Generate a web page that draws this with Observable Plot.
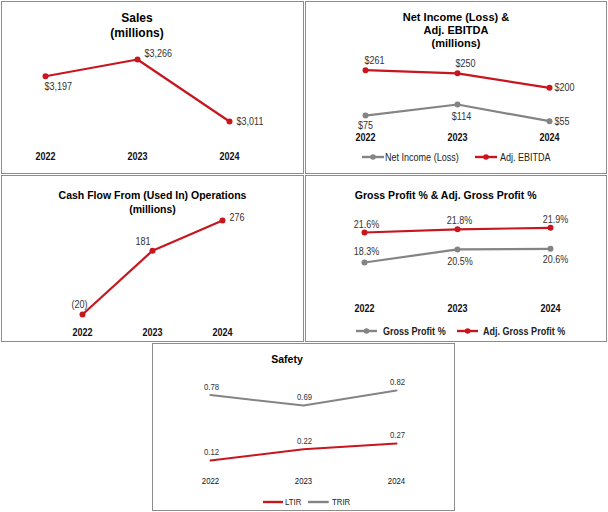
<!DOCTYPE html>
<html><head><meta charset="utf-8">
<script src="https://cdn.jsdelivr.net/npm/d3@7"></script>
<script src="https://cdn.jsdelivr.net/npm/@observablehq/plot@0.6"></script>
<style>
body{margin:0;background:#fff;}
#root{position:relative;width:608px;height:512px;overflow:hidden;font-family:"Liberation Sans",Arial,Helvetica,sans-serif;}
.panel{position:absolute;box-sizing:border-box;border:1.5px solid #8c8c8c;}
.layer{position:absolute;}
.title{position:absolute;text-align:center;font-weight:bold;color:#000;white-space:nowrap;}
.leg{position:absolute;display:flex;align-items:center;white-space:nowrap;color:#222;}
.leg span{display:inline-block;transform:scaleX(0.82);transform-origin:0 50%;}
</style></head><body><div id="root"></div>
<script>
const years = ["2022", "2023", "2024"];
const sales = [3197, 3266, 3011];
const netIncome = [75, 114, 55];
const adjEbitda = [261, 250, 200];
const cashFlow = [-20, 181, 276];
const grossProfit = [18.3, 20.5, 20.6];
const adjGrossProfit = [21.6, 21.8, 21.9];
const ltir = [0.12, 0.22, 0.27];
const trir = [0.78, 0.69, 0.82];

const RED = "#c8161e", GRAY = "#848484";
const FONT = '"Liberation Sans", Arial, Helvetica, sans-serif';
const NARROW = 0.82;
const root = document.getElementById("root");

const rows = vals => years.map((year, i) => ({year, value: vals[i], i}));

function panel(l, t, w, h) {
  const d = document.createElement("div");
  d.className = "panel";
  Object.assign(d.style, {left: l + "px", top: t + "px", width: w + "px", height: h + "px"});
  root.appendChild(d);
}

// condense text horizontally (narrow face look)
function condense(svg) {
  svg.querySelectorAll("text").forEach(t => {
    const tr = t.getAttribute("transform");
    if (tr) t.setAttribute("transform", tr + ` scale(${NARROW},1)`);
    else {
      const x = +(t.getAttribute("x") || 0), y = +(t.getAttribute("y") || 0);
      t.removeAttribute("x"); t.removeAttribute("y");
      t.setAttribute("transform", `translate(${x},${y}) scale(${NARROW},1)`);
    }
  });
}

function layer(box, xs, ys, vals, o) {
  const [L, T, W, H] = box;
  const data = rows(vals);
  const marks = [];
  marks.push(Plot.line(data, {x: "year", y: "value", stroke: o.color, strokeWidth: o.sw || 2.2}));
  if (o.dots) marks.push(Plot.dot(data, {x: "year", y: "value", r: 3, fill: o.color}));
  o.places.forEach((p, i) => marks.push(Plot.text(data.filter(d => d.i === i), {
    x: "year", y: "value", text: d => o.fmt(d.value),
    dx: p[0], dy: p[1], textAnchor: p[2] || "middle", fontSize: o.fs || 11, fill: "#333"
  })));
  if (o.axis) marks.push(Plot.axisX({
    tickSize: 0, tickPadding: o.axis.pad, fontSize: o.axis.fs || 11,
    fontWeight: o.axis.bold ? "bold" : "normal", fill: "#111", label: null
  }));
  const svg = Plot.plot({
    width: W, height: H,
    marginLeft: xs[0] - L, marginRight: L + W - xs[1],
    marginTop: ys[1] - T, marginBottom: T + H - ys[0],
    x: o.axis ? {type: "point", domain: years, padding: 0} : {type: "point", domain: years, padding: 0, axis: null},
    y: {domain: d3.extent(vals), axis: null},
    style: {fontFamily: FONT, background: "transparent", overflow: "visible"},
    marks
  });
  condense(svg);
  const wrap = document.createElement("div");
  wrap.className = "layer";
  Object.assign(wrap.style, {left: L + "px", top: T + "px", width: W + "px", height: H + "px"});
  wrap.appendChild(svg);
  root.appendChild(wrap);
}

function title(cx, y1, lines, fs, lh) {
  const d = document.createElement("div");
  d.className = "title";
  Object.assign(d.style, {left: (cx - 150) + "px", width: "300px", top: (y1 - lh / 2) + "px",
    lineHeight: lh + "px", fontSize: fs + "px"});
  d.innerHTML = lines.join("<br>");
  root.appendChild(d);
}

function legend(x, y, sw, color, dot, label, fs, bold, gap) {
  const d = document.createElement("div");
  d.className = "leg";
  Object.assign(d.style, {left: x + "px", top: (y - 7) + "px", height: "14px", fontSize: fs + "px",
    fontWeight: bold ? "bold" : "normal"});
  const ns = "http://www.w3.org/2000/svg";
  const s = document.createElementNS(ns, "svg");
  s.setAttribute("width", sw); s.setAttribute("height", 8);
  const ln = document.createElementNS(ns, "line");
  ln.setAttribute("x1", 0); ln.setAttribute("x2", sw); ln.setAttribute("y1", 4); ln.setAttribute("y2", 4);
  ln.setAttribute("stroke", color); ln.setAttribute("stroke-width", 2.4);
  s.appendChild(ln);
  if (dot) {
    const c = document.createElementNS(ns, "circle");
    c.setAttribute("cx", sw / 2); c.setAttribute("cy", 4); c.setAttribute("r", 2.8); c.setAttribute("fill", color);
    s.appendChild(c);
  }
  d.appendChild(s);
  const t = document.createElement("span");
  t.style.marginLeft = gap + "px";
  t.textContent = label;
  d.appendChild(t);
  root.appendChild(d);
}

const dollars = v => "$" + d3.format(",")(v);
const paren = v => v < 0 ? `(${-v})` : `${v}`;
const pct = v => v.toFixed(1) + "%";
const two = v => v.toFixed(2);

// Panel 1: Sales
const b1 = [1, 1, 302.5, 172.5];
panel(...b1);
layer(b1, [44, 229], [121, 59], sales, {color: RED, dots: true, fmt: dollars,
  places: [[-1, 10, "start"], [7, -6, "start"], [7, 0, "start"]],
  axis: {pad: 31, bold: true}});
title(137, 18, ["Sales", "(millions)"], 12, 15);

// Panel 2: Net Income & Adj. EBITDA
const b2 = [305, 1, 301.5, 172.5];
panel(...b2);
layer(b2, [364.7, 550], [120.7, 104], netIncome, {color: GRAY, dots: true, fmt: dollars,
  places: [[0, 10], [4, 12], [5, 0, "start"]],
  axis: {pad: 12, bold: true}});
layer(b2, [364.7, 550], [87.3, 69.7], adjEbitda, {color: RED, dots: true, fmt: dollars,
  places: [[-1, -10, "start"], [-2, -10, "start"], [5, 0, "start"]]});
title(456, 17, ["Net Income (Loss) &", "Adj. EBITDA", "(millions)"], 11, 13);
legend(362, 156.7, 22, GRAY, true, "Net Income (Loss)", 11, false, 1);
legend(475, 156.7, 22, RED, true, "Adj. EBITDA", 11, false, 3);

// Panel 3: Cash Flow
const b3 = [1, 175, 302.5, 166.5];
panel(...b3);
layer(b3, [80.7, 222.3], [314, 220], cashFlow, {color: RED, dots: true, fmt: paren,
  places: [[-3, -10], [-2, -9, "end"], [7, -3, "start"]],
  axis: {pad: 13.5, bold: true}});
title(152.5, 195, ["Cash Flow From (Used In) Operations", "(millions)"], 10.5, 14.3);

// Panel 4: Gross Profit %
const b4 = [305, 175, 301.5, 166.5];
panel(...b4);
layer(b4, [363.3, 549.7], [262, 248.3], grossProfit, {color: GRAY, dots: true, fmt: pct,
  places: [[2, -11], [2.5, 11.7], [5, 11]],
  axis: {pad: 41.5, bold: true}});
layer(b4, [363.3, 549.7], [232, 227.3], adjGrossProfit, {color: RED, dots: true, fmt: pct,
  places: [[2, -8.5], [2, -8.5], [5, -8.5]]});
title(445.7, 195, ["Gross Profit % & Adj. Gross Profit %"], 10.5, 14);
legend(355.7, 331, 21, GRAY, true, "Gross Profit %", 11, true, 6);
legend(456.7, 331, 21.3, RED, true, "Adj. Gross Profit %", 11, true, 5);

// Panel 5: Safety
const b5 = [152, 343, 302.5, 168];
panel(...b5);
layer(b5, [210, 396.7], [405, 390], trir, {color: GRAY, dots: false, fmt: two, fs: 9.5, sw: 2,
  places: [[1, -8.5], [1, -8.5], [1, -8.5]]});
layer(b5, [210, 396.7], [460, 443], ltir, {color: RED, dots: false, fmt: two, fs: 9.5, sw: 2,
  places: [[1, -8.5], [1, -8.5], [1, -8.5]],
  axis: {pad: 16.5, fs: 9.5, bold: false}});
title(287, 359, ["Safety"], 10.5, 14);
legend(263.3, 501.7, 20, RED, false, "LTIR", 9.5, false, 1.7);
legend(308.3, 501.7, 20.7, GRAY, false, "TRIR", 9.5, false, 2.7);
</script></body></html>
